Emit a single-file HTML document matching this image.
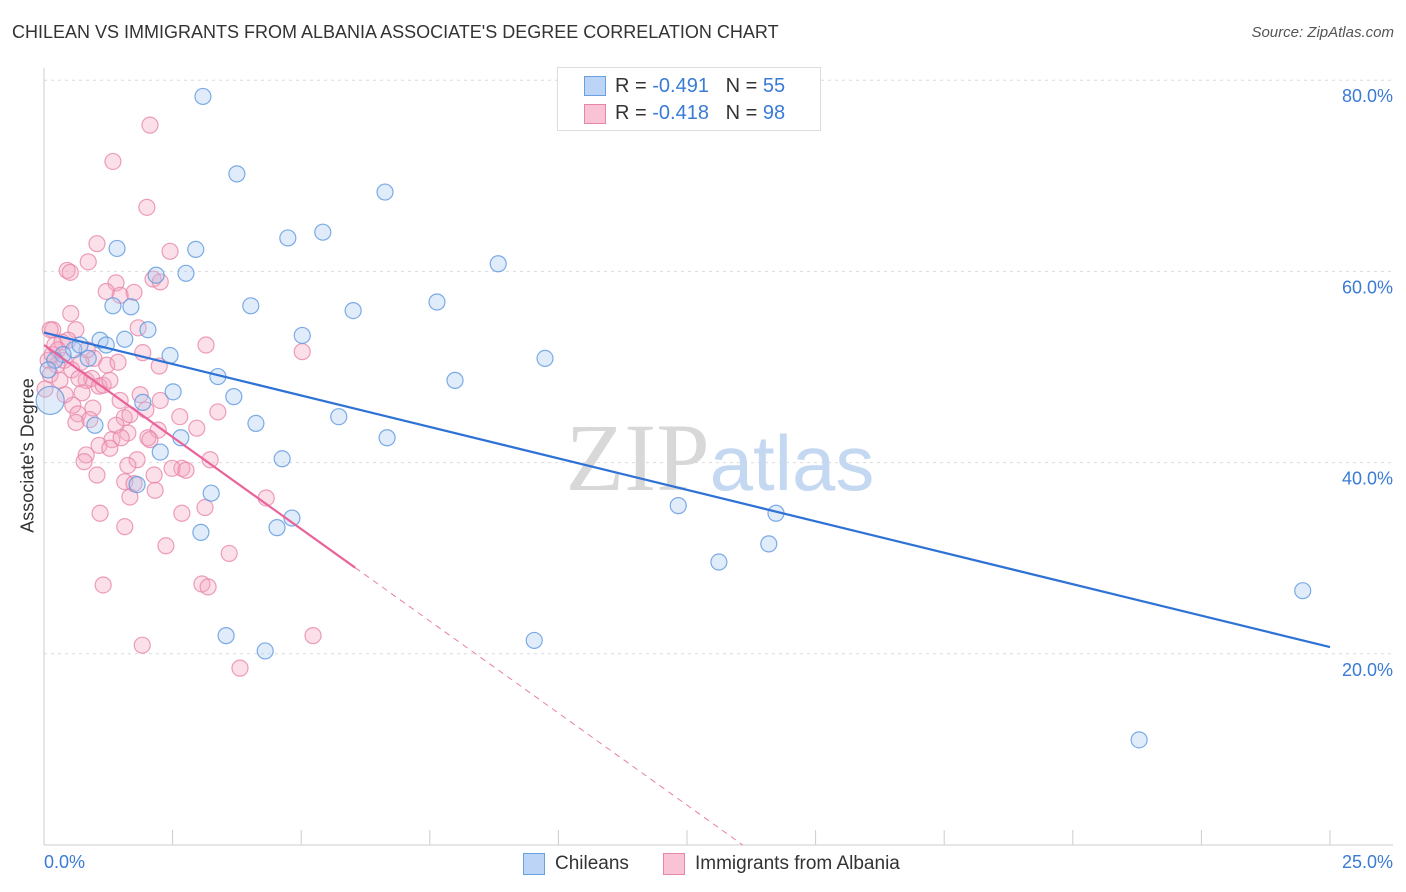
<!DOCTYPE html>
<html><head><meta charset="utf-8"><style>
body{margin:0;background:#fff;font-family:"Liberation Sans",sans-serif;}
#wrap{position:relative;width:1406px;height:892px;overflow:hidden;}
.t{position:absolute;white-space:nowrap;}
</style></head><body>
<div id="wrap">
<div class="t" style="left:12px;top:22px;font-size:18px;color:#333;">CHILEAN VS IMMIGRANTS FROM ALBANIA ASSOCIATE'S DEGREE CORRELATION CHART</div>
<div class="t" style="right:12px;top:24px;font-size:15px;color:#555;font-style:italic;">Source: ZipAtlas.com</div>
<svg id="svg" width="1406" height="892" style="position:absolute;left:0;top:0"></svg>
</div>
<script>
const xTicks=[0,2.5,5,7.5,10,12.5,15,17.5,20,22.5,25];
const yTicks=[20,40,60,80];
const yTickLabels=["20.0%","40.0%","60.0%","80.0%"];
const blueX=[3.09,3.75,6.63,5.42,4.74,2.95,1.42,8.83,2.76,2.18,4.02,7.64,1.34,1.69,6.01,2.02,5.02,1.57,1.09,1.21,0.58,0.37,0.86,9.74,2.45,3.38,7.99,2.51,3.69,1.92,5.73,4.12,6.67,2.66,0.99,2.26,4.63,3.25,1.81,12.33,4.82,14.23,3.05,4.53,14.09,13.12,24.47,3.54,9.53,4.30,21.29,0.12,0.21,0.08,0.70];
const blueY=[78.3,70.2,68.3,64.1,63.5,62.3,62.4,60.8,59.8,59.6,56.4,56.8,56.4,56.3,55.9,53.9,53.3,52.9,52.8,52.3,51.8,51.3,50.9,50.9,51.2,49.0,48.6,47.4,46.9,46.3,44.8,44.1,42.6,42.6,43.9,41.1,40.4,36.8,37.7,35.5,34.2,34.7,32.7,33.2,31.5,29.6,26.6,21.9,21.4,20.3,11.0,46.5,50.7,49.7,52.3];
const pinkX=[2.06,1.34,2.00,1.03,2.45,0.86,0.45,0.51,1.40,2.12,2.26,1.21,1.75,1.48,0.52,0.17,0.62,1.83,3.15,5.02,1.92,0.21,0.35,0.47,0.97,0.08,0.25,0.72,1.22,1.44,2.24,0.12,0.31,0.82,0.93,1.07,1.15,0.74,0.56,0.95,0.66,1.98,1.56,1.67,3.38,2.64,0.89,0.62,1.40,1.63,2.22,2.97,2.02,1.32,1.50,1.07,0.82,1.28,1.81,2.68,3.23,0.78,1.63,2.49,2.76,2.14,1.03,1.57,1.75,2.16,4.32,1.67,1.09,2.68,3.13,1.57,3.60,2.37,1.15,3.07,3.19,5.23,1.91,3.81,0.12,0.02,0.16,0.41,0.27,0.84,0.39,0.54,0.68,1.28,2.06,1.48,1.87,2.26];
const pinkY=[75.3,71.5,66.7,62.9,62.1,61.0,60.1,59.9,58.8,59.2,58.9,57.9,57.8,57.5,55.6,53.9,53.9,54.1,52.3,51.6,51.5,52.3,52.6,52.8,50.9,50.7,50.2,50.5,50.2,50.5,50.1,49.2,48.6,48.6,48.8,48.0,48.1,47.3,46.0,45.7,45.1,45.5,44.7,45.0,45.3,44.8,44.5,44.2,43.9,43.1,43.4,43.6,42.6,42.4,42.6,41.8,40.8,41.5,40.3,39.4,40.3,40.1,39.7,39.4,39.2,38.7,38.7,38.0,37.8,37.1,36.3,36.4,34.7,34.7,35.3,33.3,30.5,31.3,27.2,27.3,27.0,21.9,20.9,18.5,53.9,47.7,51.3,47.1,51.8,51.8,50.7,49.7,48.8,48.6,42.4,46.5,47.1,46.5];
const blueTrend=[53.6,20.7]; // y at x=0, x=25
const pinkTrend=[52.3,-3.85]; // intercept, slope
const pinkSolidEnd=6.05;
const NS="http://www.w3.org/2000/svg";
const svg=document.getElementById('svg');
const X=v=>44+v*51.44, Y=v=>845-v*9.56;
function mk(t,a,p){const e=document.createElementNS(NS,t);for(const k in a)e.setAttribute(k,a[k]);(p||svg).appendChild(e);return e;}
// gridlines
yTicks.forEach((v,i)=>{
 const g=mk('line',{x1:44,x2:1393,y1:Y(v),y2:Y(v),stroke:'#dcdcdc','stroke-dasharray':'3,4'});
 
 
 const t=mk('text',{x:1393,y:Y(v)+22,'text-anchor':'end','font-size':18,fill:'#3a7bd5','font-family':'Liberation Sans'});
 t.textContent=yTickLabels[i];
 
 
});
mk('line',{x1:44,x2:44,y1:68,y2:845,stroke:'#ccc'});
mk('line',{x1:44,x2:1393,y1:845,y2:845,stroke:'#ccc'});
xTicks.forEach(v=>{const l=mk('line',{x1:X(v),x2:X(v),y1:830,y2:845,stroke:'#ccc'});
 
 });
// watermark
const wm=mk('text',{x:720,y:490,'text-anchor':'middle','font-size':96,fill:'#d8d8d8','font-family':'Liberation Serif'});
wm.innerHTML='ZIP<tspan fill="#c4d8f2" font-family="Liberation Sans" font-size="78">atlas</tspan>';


function pts(xs,ys,fill,stroke,name){xs.forEach((x,i)=>{
 const big=(name==='chilean-point'&&i===51);
 const c=mk('circle',{cx:X(x),cy:Y(ys[i]),r:big?14:8,fill:fill,'fill-opacity':0.35,stroke:stroke,'stroke-width':1.2,'stroke-opacity':0.8});
 
 });}
pts(pinkX,pinkY,'#f4a7c1','#e886aa','albania-point');
pts(blueX,blueY,'#a9c9f2','#5d97e0','chilean-point');
const bl=mk('line',{x1:X(0),y1:Y(blueTrend[0]),x2:X(25),y2:Y(blueTrend[1]),stroke:'#2f72d6','stroke-width':2.2});


const pz=-pinkTrend[0]/pinkTrend[1];
const pd=mk('line',{x1:X(pinkSolidEnd),y1:Y(pinkTrend[0]+pinkTrend[1]*pinkSolidEnd),x2:X(pz),y2:Y(0),stroke:'#e87fa5','stroke-width':1,'stroke-dasharray':'6,5'});


const pl=mk('line',{x1:X(0),y1:Y(pinkTrend[0]),x2:X(pinkSolidEnd),y2:Y(pinkTrend[0]+pinkTrend[1]*pinkSolidEnd),stroke:'#e8649a','stroke-width':2.2});


</script>
<div class="t" style="left:44px;top:852px;font-size:18px;color:#3a7bd5;">0.0%</div>
<div class="t" style="right:13px;top:852px;font-size:18px;color:#3a7bd5;">25.0%</div>
<div class="t" style="left:-52px;top:445px;font-size:18px;color:#333;transform:rotate(-90deg);width:160px;text-align:center;">Associate's Degree</div>
<div style="position:absolute;left:557px;top:67px;width:262px;height:62px;border:1px solid #ddd;background:#fff;font-size:20px;color:#333;">
 <div style="position:absolute;left:26px;top:8px;width:20px;height:18px;background:#bcd4f5;border:1px solid #6a9fe0;"></div>
 <div class="t" style="left:57px;top:7px;">R = <span style="color:#3a7bd5">-0.491</span>&nbsp;&nbsp;&nbsp;N = <span style="color:#3a7bd5">55</span></div>
 <div style="position:absolute;left:26px;top:36px;width:20px;height:18px;background:#f9c3d5;border:1px solid #e886aa;"></div>
 <div class="t" style="left:57px;top:34px;">R = <span style="color:#3a7bd5">-0.418</span>&nbsp;&nbsp;&nbsp;N = <span style="color:#3a7bd5">98</span></div>
</div>
<div style="position:absolute;left:523px;top:853px;width:20px;height:20px;background:#bcd4f5;border:1px solid #6a9fe0;"></div>
<div class="t" style="left:555px;top:853px;font-size:19px;color:#333;">Chileans</div>
<div style="position:absolute;left:663px;top:853px;width:20px;height:20px;background:#f9c3d5;border:1px solid #e886aa;"></div>
<div class="t" style="left:695px;top:853px;font-size:19px;color:#333;">Immigrants from Albania</div>
</body></html>
